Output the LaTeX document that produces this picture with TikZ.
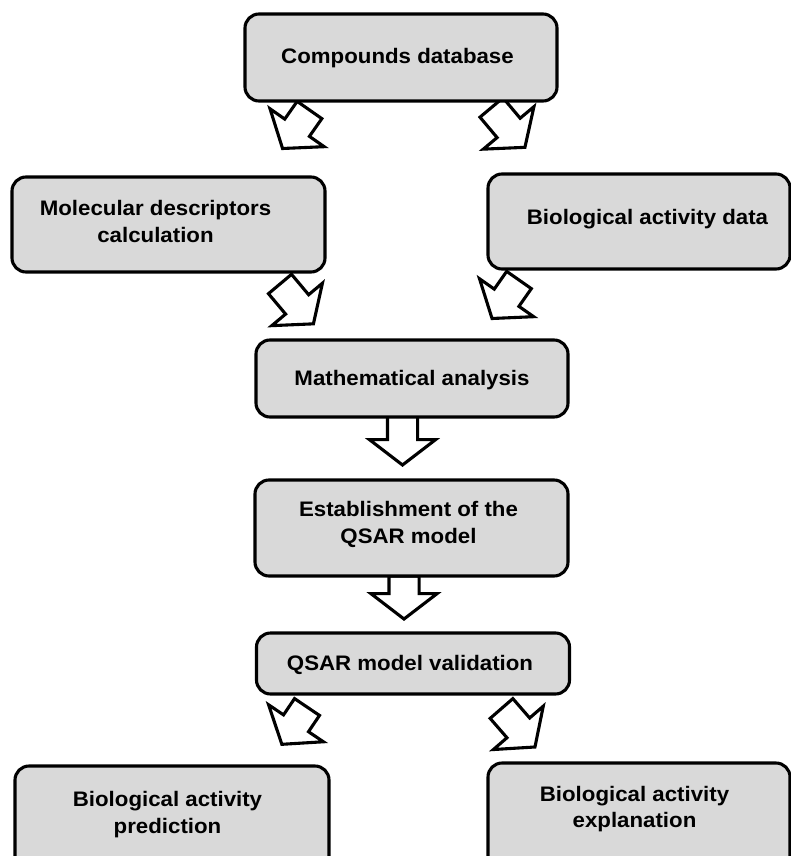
\documentclass[tikz,border=0pt]{standalone}
\usepackage{fontspec}
\setmainfont{Liberation Sans}[FakeStretch=1.06]
\usetikzlibrary{shapes.arrows}
\definecolor{boxgray}{RGB}{217,217,217}
\tikzset{
  box/.style={draw=black, line width=3.1pt, fill=boxgray, rounded corners=14pt, inner sep=0pt, outer sep=0pt},
  txt/.style={font=\fontsize{21}{26.5}\selectfont\bfseries, align=center, inner sep=0pt, text=black},
  barrow/.style={single arrow, draw=black, fill=white, line width=3.1pt, inner xsep=0pt, inner ysep=13.5pt,
    outer sep=0pt, single arrow head extend=18pt, single arrow tip angle=105, minimum height=#1, anchor=tail},
}
\begin{document}
\begin{tikzpicture}[x=1pt,y=-1pt]
\useasboundingbox (0,0) rectangle (791,856);
\clip (0,0) rectangle (791,856);
% block arrows (drawn first so the boxes cover their tails)
\node[barrow=47pt, rotate=235] (aA) at (309.5,110) {};
\node[barrow=52pt, rotate=-50] (aB) at (491.5,107.5) {};
\node[barrow=52pt, rotate=-50] (aC) at (280,284) {};
\node[barrow=47pt, rotate=235] (aD) at (519,280) {};
\node[barrow=49pt, rotate=-90] (aV1) at (402.5,416) {};
\node[barrow=43pt, rotate=-90] (aV2) at (404,576) {};
\node[barrow=45pt, rotate=236] (aE) at (307,707) {};
\node[barrow=51pt, rotate=-49] (aF) at (501.5,708.5) {};
% boxes
\node[box, minimum width=312pt, minimum height=87pt,
  label={[txt,name=compT,xshift=-3.5pt,yshift=-1pt]center:Compounds database}] (comp) at (401,57.5) {};
\node[box, minimum width=313pt, minimum height=95pt,
  label={[txt,name=molT,xshift=-13pt,yshift=3pt]center:{Molecular descriptors\\calculation}}] (mol) at (168.5,224.5) {};
\node[box, minimum width=302pt, minimum height=95pt,
  label={[txt,name=bioT,xshift=8.5pt,yshift=2pt]center:Biological activity data}] (bio) at (639,221.5) {};
\node[box, minimum width=312pt, minimum height=77pt,
  label={[txt,name=mathT,yshift=-2pt]center:Mathematical analysis}] (math) at (412,378.5) {};
\node[box, minimum width=313pt, minimum height=96pt,
  label={[txt,name=estT,xshift=-3pt,yshift=3.5pt]center:{Establishment of the\\QSAR model}}] (est) at (411.5,528) {};
\node[box, minimum width=313pt, minimum height=61pt,
  label={[txt,name=valT,xshift=-3pt,yshift=-1.5pt]center:QSAR model validation}] (val) at (413,663.5) {};
\node[box, minimum width=314pt, minimum height=110pt,
  label={[txt,name=predT,xshift=-4.5pt,yshift=6.5pt]center:{Biological activity\\prediction}}] (pred) at (172,821) {};
\node[box, minimum width=302pt, minimum height=110pt,
  label={[txt,name=explT,xshift=-4.5pt,yshift=9pt]center:{Biological activity\\explanation}}] (expl) at (639,818) {};
\end{tikzpicture}
\end{document}
